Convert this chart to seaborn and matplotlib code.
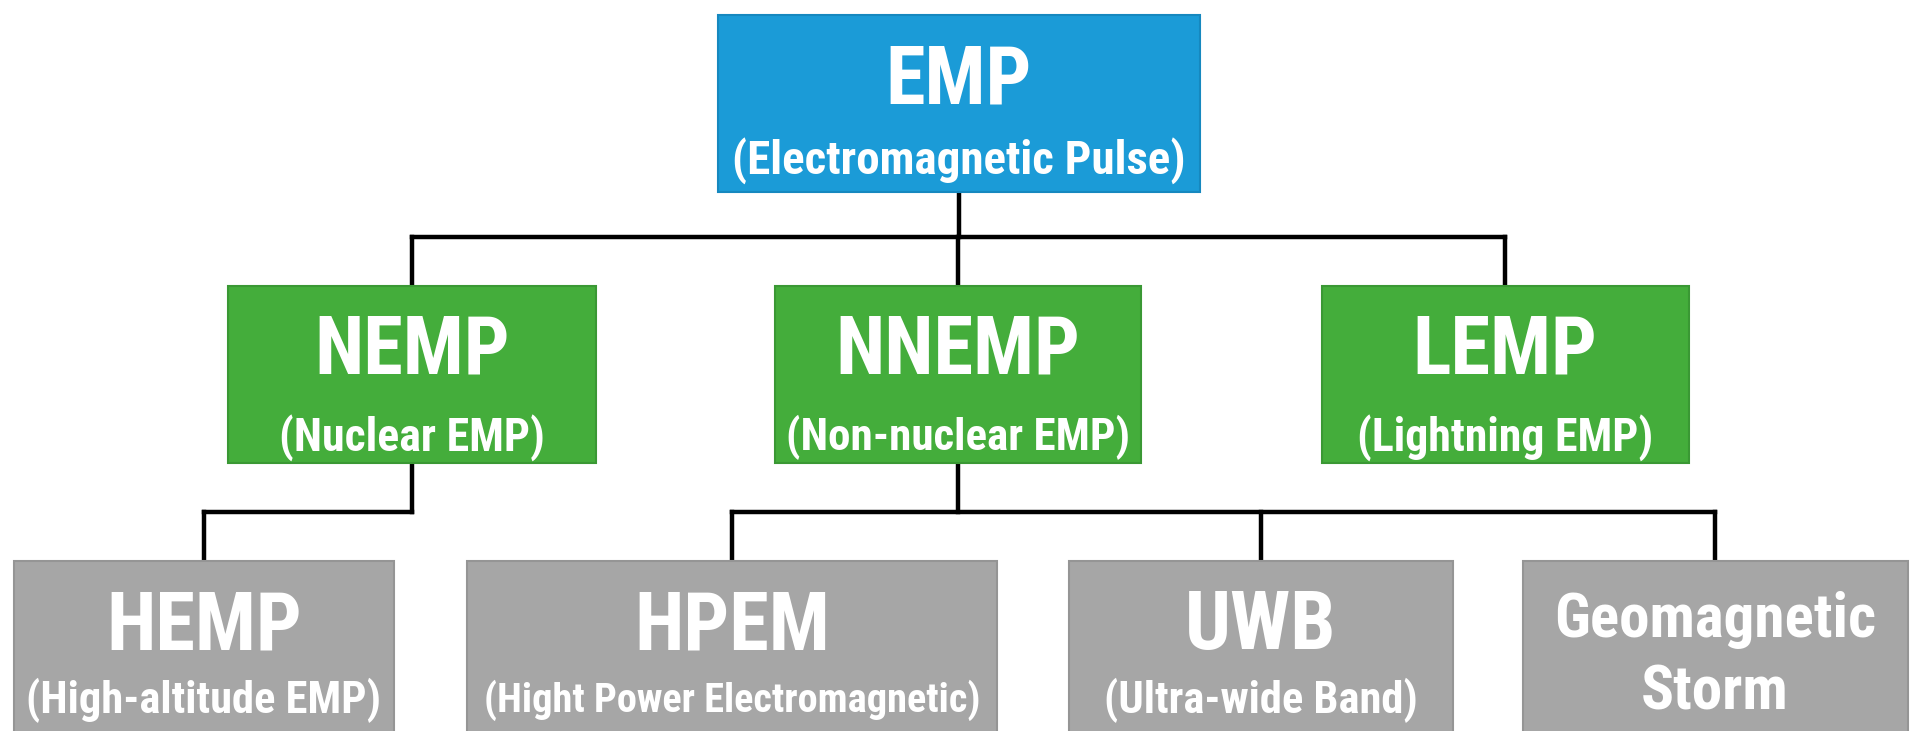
import matplotlib
matplotlib.use('Agg')
import matplotlib.pyplot as plt
from matplotlib import font_manager
import seaborn as sns

# ==============================================================================
# DADOS DO DIAGRAMA
# ==============================================================================
nos = ['EMP', 'NEMP', 'NNEMP', 'LEMP', 'HEMP', 'HPEM', 'UWB', 'Geomagnetic Storm']
subtitulos = [
    '(Electromagnetic Pulse)', '(Nuclear EMP)', '(Non-nuclear EMP)', '(Lightning EMP)',
    '(High-altitude EMP)', '(Hight Power Electromagnetic)', '(Ultra-wide Band)', '',
]
pais = [None, 'EMP', 'EMP', 'EMP', 'NEMP', 'NNEMP', 'NNEMP', 'NNEMP']
niveis = [0, 1, 1, 1, 2, 2, 2, 2]

# ==============================================================================
# LAYOUT (pixels da imagem final, y para baixo)
# ==============================================================================
centros_x = [959, 412, 958, 1505, 204, 732, 1261, 1715]
larguras = [482, 368, 366, 367, 380, 530, 384, 385]
topo_nivel = [15, 286, 561]
altura_caixa = 177
barramento_y = [237, 512]
cores_nivel = ['#1B9BD7', '#44AD3B', '#A6A6A6']
bordas_nivel = ['#1688BF', '#3A9834', '#959595']

# centro da altura das maiusculas, medido a partir do topo da caixa
off_titulo = 59
off_sub = [142, 148, 136]
off_linhas = [54, 127]
tam_titulo = 58
tam_sub = [39, 33, 32]
tam_linhas = 44


def escolher_fonte():
    fontes = font_manager.fontManager.ttflist
    for nome in ['Roboto Condensed', 'Liberation Sans Narrow', 'Open Sans Condensed']:
        if any(f.name == nome for f in fontes):
            return nome, 'normal'
    if any(f.name == 'DejaVu Sans' and f.stretch == 'condensed' for f in fontes):
        return 'DejaVu Sans', 'condensed'
    return 'Roboto', 'normal'


sns.set_theme(style='white')
familia, esticamento = escolher_fonte()
plt.rcParams['font.family'] = [familia, 'DejaVu Sans']

fig = plt.figure(figsize=(19.22, 7.31), dpi=100)
ax = fig.add_axes([0, 0, 1, 1])
ax.set_xlim(0, 1922)
ax.set_ylim(731, 0)
ax.axis('off')

# caixas
for nivel in range(3):
    idx = [i for i, n in enumerate(niveis) if n == nivel]
    ax.bar([centros_x[i] for i in idx], altura_caixa,
           width=[larguras[i] for i in idx], bottom=topo_nivel[nivel],
           color=cores_nivel[nivel], edgecolor=bordas_nivel[nivel], linewidth=1.5, zorder=2)

# conectores
for i, nome in enumerate(nos):
    filhos = [j for j, p in enumerate(pais) if p == nome]
    if not filhos:
        continue
    nivel = niveis[i]
    y_bar = barramento_y[nivel]
    y_base = topo_nivel[nivel] + altura_caixa
    xs_filhos = [centros_x[j] for j in filhos]
    estilo = dict(color='black', lw=3.2, solid_capstyle='projecting', zorder=1)
    ax.plot([centros_x[i], centros_x[i]], [y_base, y_bar], **estilo)
    ax.plot([min(xs_filhos + [centros_x[i]]), max(xs_filhos + [centros_x[i]])], [y_bar, y_bar], **estilo)
    for x in xs_filhos:
        ax.plot([x, x], [y_bar, topo_nivel[nivel + 1]], **estilo)

# textos: (objeto, largura max, centro das maiusculas)
textos = []
for i, nome in enumerate(nos):
    nivel = niveis[i]
    topo = topo_nivel[nivel]
    kw = dict(ha='center', va='baseline', color='white', fontweight='bold',
              fontstretch=esticamento, zorder=3)
    if subtitulos[i]:
        t = ax.text(centros_x[i], 0, nome, fontsize=tam_titulo, **kw)
        textos.append((t, 0.8 * larguras[i], topo + off_titulo))
        t = ax.text(centros_x[i], 0, subtitulos[i], fontsize=tam_sub[nivel], **kw)
        textos.append((t, 0.94 * larguras[i], topo + off_sub[nivel]))
    else:
        for palavra, off in zip(nome.split(), off_linhas):
            t = ax.text(centros_x[i], 0, palavra, fontsize=tam_linhas, **kw)
            textos.append((t, 0.9 * larguras[i], topo + off))

fig.canvas.draw()
renderer = fig.canvas.get_renderer()
for t, largura_max, y_centro in textos:
    w = t.get_window_extent(renderer).width
    if w > largura_max:
        t.set_fontsize(t.get_fontsize() * largura_max / w)
    # altura das maiusculas em px ~ tamanho em pt (dpi 100)
    t.set_y(y_centro + t.get_fontsize() / 2)

fig.savefig('out.png', dpi=100, facecolor='white')
plt.close(fig)
